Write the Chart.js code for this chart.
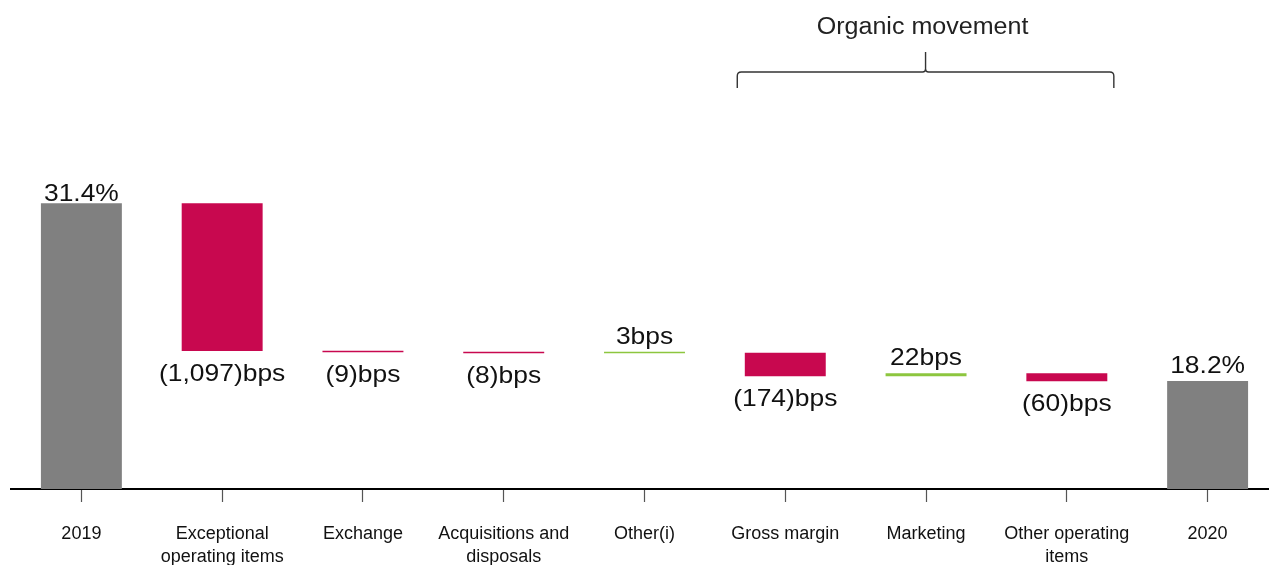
<!DOCTYPE html>
<html>
<head>
<meta charset="utf-8">
<script src="https://cdn.jsdelivr.net/npm/chart.js@4.4.1/dist/chart.umd.min.js"></script>
<style>
  html, body { margin: 0; padding: 0; background: #fff; overflow: hidden; }
  #wrap { width: 1278px; height: 565px; }
</style>
</head>
<body>
<div id="wrap"><canvas id="chart_area" width="1278" height="565"></canvas></div>
<script>
// chart data
const categories = ['2019', ['Exceptional', 'operating items'], 'Exchange', ['Acquisitions and', 'disposals'],
  'Other(i)', 'Gross margin', 'Marketing', ['Other operating', 'items'], '2020'];
const startValue = 31.4;   // %
const endValue = 18.2;     // %
const movementsBps = [-1097, -9, -8, 3, -174, 22, -60];
const valueLabels = ['31.4%', '(1,097)bps', '(9)bps', '(8)bps', '3bps', '(174)bps', '22bps', '(60)bps', '18.2%'];
const bracketTitle = 'Organic movement';
const bracketFrom = 5;  // Gross margin
const bracketTo = 7;    // Other operating items

const axisMin = 10.17;
const axisMax = 39.9;

const GREY = '#808080';
const RED = '#c8084f';
const GREEN = '#8dc63f';
const FONT = '"Liberation Sans", Arial, sans-serif';

// build floating bars
let level = startValue;
const ranges = [[axisMin, startValue]];
const colors = [GREY];
movementsBps.forEach(m => {
  const next = level + m / 100;
  ranges.push([level, next]);
  colors.push(m < 0 ? RED : GREEN);
  level = next;
});
ranges.push([axisMin, endValue]);
colors.push(GREY);

function stretchedText(ctx, text, x, y, size, sx) {
  ctx.save();
  ctx.font = size + 'px ' + FONT;
  ctx.translate(x, y);
  ctx.scale(sx, 1);
  ctx.textAlign = 'center';
  ctx.textBaseline = 'alphabetic';
  ctx.fillText(text, 0, 0);
  ctx.restore();
}

const labelPlugin = {
  id: 'valueLabels',
  afterDatasetsDraw(chart) {
    const ctx = chart.ctx;
    const meta = chart.getDatasetMeta(0);
    ctx.fillStyle = '#111';
    meta.data.forEach((bar, i) => {
      const top = Math.min(bar.y, bar.base);
      const bottom = Math.max(bar.y, bar.base);
      const isTotal = i === 0 || i === meta.data.length - 1;
      const up = isTotal || movementsBps[i - 1] > 0;
      if (up) {
        stretchedText(ctx, valueLabels[i], bar.x, top - (i === 0 ? 2 : 8), 24, 1.1);
      } else {
        stretchedText(ctx, valueLabels[i], bar.x, bottom + 13 + 17, 24, 1.1);
      }
    });

    // bracket over organic movement
    const x = chart.scales.x;
    const L = x.getPixelForValue(bracketFrom) - 48;
    const R = x.getPixelForValue(bracketTo) + 47;
    const C = (L + R) / 2;
    const yb = 72;
    ctx.save();
    ctx.strokeStyle = '#333';
    ctx.lineWidth = 1.4;
    ctx.beginPath();
    ctx.moveTo(L, 88);
    ctx.lineTo(L, 76);
    ctx.quadraticCurveTo(L, yb, L + 4, yb);
    ctx.lineTo(C - 3, yb);
    ctx.quadraticCurveTo(C, yb, C, yb - 3);
    ctx.lineTo(C, 52);
    ctx.moveTo(C, yb - 3);
    ctx.quadraticCurveTo(C, yb, C + 3, yb);
    ctx.lineTo(R - 4, yb);
    ctx.quadraticCurveTo(R, yb, R, 76);
    ctx.lineTo(R, 88);
    ctx.stroke();
    ctx.restore();
    ctx.fillStyle = '#222';
    stretchedText(ctx, bracketTitle, C - 3, 34, 23, 1.09);
  }
};

const ctx = document.getElementById('chart_area').getContext('2d');
const myChart = new Chart(ctx, {
  type: 'bar',
  data: {
    labels: categories,
    datasets: [{
      data: ranges,
      backgroundColor: colors,
      borderWidth: 0,
      barPercentage: 0.575,
      categoryPercentage: 1,
      minBarLength: 1.5
    }]
  },
  options: {
    responsive: false,
    animation: false,
    devicePixelRatio: 1,
    layout: { padding: { left: 11, right: 0, top: 89, bottom: 0 } },
    plugins: { legend: { display: false }, tooltip: { enabled: false } },
    scales: {
      x: {
        grid: { display: true, drawOnChartArea: false, drawTicks: true, offset: false,
          tickLength: 13, tickColor: '#555', tickWidth: 1.2 },
        border: { display: true, color: '#000', width: 2 },
        ticks: { color: '#111', padding: 21, maxRotation: 0, autoSkip: false,
          font: { family: FONT, size: 18, lineHeight: 1.25 } },
        afterFit: s => { s.height = 76; }
      },
      y: {
        display: false,
        min: axisMin,
        max: axisMax
      }
    }
  },
  plugins: [labelPlugin]
});
</script>
</body>
</html>
